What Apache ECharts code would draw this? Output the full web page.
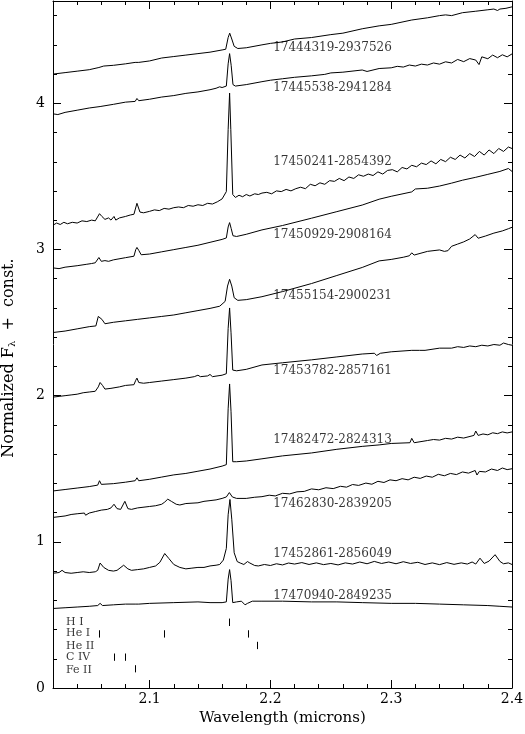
<!DOCTYPE html>
<html><head><meta charset="utf-8">
<script src="https://cdn.jsdelivr.net/npm/echarts@6/dist/echarts.min.js"></script>
<style>html,body{margin:0;padding:0;background:#fff}#c{width:525px;height:734px}</style>
</head><body><div id="c"></div>
<script>
// ---- data (wavelength in microns, normalized flux + const.) ----
const starNames = ['17444319-2937526','17445538-2941284','17450241-2854392','17450929-2908164','17455154-2900231',
  '17453782-2857161','17482472-2824313','17462830-2839205','17452861-2856049','17470940-2849235'];

const s1 = [[2.020,4.20],[2.030,4.21],[2.040,4.22],[2.050,4.23],[2.058,4.245],[2.062,4.255],[2.070,4.26],[2.080,4.27],[2.088,4.28],[2.0895,4.29],[2.091,4.28],[2.100,4.29],[2.110,4.31],[2.120,4.32],[2.130,4.33],[2.140,4.34],[2.150,4.35],[2.160,4.365],[2.1630,4.37],[2.1650,4.45],[2.1663,4.48],[2.1680,4.44],[2.1700,4.39],[2.1730,4.375],[2.180,4.38],[2.193,4.40],[2.200,4.41],[2.210,4.42],[2.220,4.44],[2.234,4.45],[2.250,4.47],[2.260,4.48],[2.276,4.51],[2.290,4.53],[2.300,4.54],[2.317,4.57],[2.330,4.585],[2.340,4.60],[2.345,4.605],[2.350,4.60],[2.359,4.62],[2.370,4.63],[2.380,4.64],[2.385,4.645],[2.388,4.635],[2.390,4.645],[2.395,4.65],[2.400,4.66]];

const s2 = [[2.020,3.928],[2.024,3.923],[2.030,3.938],[2.040,3.953],[2.050,3.968],[2.059,3.978],[2.070,3.993],[2.080,4.008],[2.088,4.013],[2.0895,4.033],[2.091,4.018],[2.100,4.028],[2.110,4.043],[2.120,4.053],[2.130,4.068],[2.140,4.078],[2.150,4.093],[2.155,4.103],[2.158,4.113],[2.160,4.108],[2.1635,4.118],[2.1650,4.27],[2.1662,4.34],[2.1675,4.26],[2.1690,4.128],[2.171,4.118],[2.180,4.128],[2.193,4.148],[2.200,4.158],[2.210,4.168],[2.220,4.178],[2.234,4.188],[2.245,4.198],[2.250,4.208],[2.260,4.213],[2.276,4.228],[2.280,4.218],[2.290,4.238],[2.300,4.243],[2.305,4.253],[2.310,4.248],[2.315,4.262],[2.320,4.255],[2.325,4.268],[2.330,4.262],[2.335,4.276],[2.340,4.268],[2.345,4.284],[2.350,4.276],[2.355,4.300],[2.360,4.285],[2.365,4.306],[2.370,4.296],[2.3727,4.265],[2.375,4.318],[2.380,4.305],[2.384,4.330],[2.388,4.312],[2.392,4.332],[2.396,4.318],[2.400,4.338]];

const s3 = [[2.020,3.166],[2.023,3.181],[2.026,3.171],[2.029,3.186],[2.032,3.176],[2.036,3.186],[2.040,3.181],[2.044,3.196],[2.048,3.191],[2.052,3.201],[2.055,3.196],[2.0585,3.245],[2.0605,3.226],[2.063,3.206],[2.066,3.216],[2.068,3.201],[2.0705,3.226],[2.072,3.201],[2.075,3.216],[2.080,3.226],[2.084,3.236],[2.087,3.241],[2.0895,3.316],[2.092,3.256],[2.095,3.251],[2.100,3.261],[2.104,3.271],[2.108,3.266],[2.112,3.281],[2.116,3.276],[2.120,3.286],[2.124,3.291],[2.128,3.286],[2.132,3.301],[2.136,3.296],[2.140,3.306],[2.144,3.301],[2.148,3.316],[2.152,3.311],[2.156,3.326],[2.160,3.346],[2.1635,3.396],[2.1650,3.82],[2.1662,4.07],[2.1672,3.82],[2.1688,3.376],[2.171,3.356],[2.174,3.371],[2.177,3.361],[2.180,3.376],[2.183,3.366],[2.187,3.381],[2.190,3.376],[2.193,3.386],[2.197,3.391],[2.201,3.381],[2.205,3.401],[2.209,3.396],[2.213,3.411],[2.217,3.401],[2.221,3.416],[2.225,3.426],[2.229,3.416],[2.233,3.446],[2.237,3.436],[2.241,3.456],[2.245,3.446],[2.249,3.471],[2.253,3.466],[2.257,3.486],[2.261,3.471],[2.265,3.496],[2.269,3.486],[2.273,3.511],[2.277,3.501],[2.281,3.516],[2.285,3.506],[2.289,3.531],[2.293,3.516],[2.297,3.541],[2.301,3.546],[2.305,3.531],[2.309,3.561],[2.313,3.551],[2.317,3.576],[2.321,3.566],[2.325,3.591],[2.329,3.581],[2.333,3.606],[2.337,3.586],[2.341,3.616],[2.345,3.601],[2.349,3.631],[2.353,3.616],[2.357,3.646],[2.361,3.626],[2.365,3.656],[2.369,3.636],[2.373,3.671],[2.377,3.646],[2.381,3.681],[2.385,3.656],[2.389,3.691],[2.393,3.671],[2.397,3.701],[2.400,3.691]];

const s4 = [[2.020,2.874],[2.025,2.869],[2.030,2.879],[2.040,2.889],[2.048,2.899],[2.052,2.904],[2.055,2.909],[2.058,2.945],[2.060,2.919],[2.063,2.924],[2.066,2.919],[2.070,2.929],[2.080,2.944],[2.087,2.954],[2.0885,2.999],[2.0895,3.014],[2.091,2.994],[2.093,2.964],[2.100,2.969],[2.110,2.984],[2.120,2.999],[2.130,3.014],[2.140,3.029],[2.150,3.049],[2.160,3.069],[2.1635,3.079],[2.1650,3.154],[2.1662,3.184],[2.1675,3.144],[2.1690,3.094],[2.172,3.089],[2.180,3.104],[2.193,3.134],[2.210,3.164],[2.234,3.214],[2.255,3.259],[2.276,3.304],[2.290,3.344],[2.300,3.364],[2.317,3.394],[2.320,3.414],[2.330,3.419],[2.340,3.434],[2.350,3.454],[2.359,3.474],[2.370,3.494],[2.380,3.514],[2.390,3.534],[2.397,3.554],[2.400,3.534]];

const s5 = [[2.020,2.432],[2.030,2.442],[2.040,2.457],[2.050,2.472],[2.0555,2.477],[2.0575,2.542],[2.0590,2.552],[2.0605,2.522],[2.063,2.492],[2.070,2.502],[2.080,2.512],[2.090,2.522],[2.100,2.532],[2.110,2.542],[2.120,2.552],[2.130,2.567],[2.140,2.582],[2.150,2.597],[2.158,2.612],[2.1625,2.645],[2.1645,2.75],[2.1662,2.796],[2.1680,2.75],[2.1700,2.67],[2.173,2.652],[2.180,2.657],[2.193,2.677],[2.210,2.712],[2.234,2.767],[2.255,2.822],[2.276,2.877],[2.290,2.922],[2.300,2.932],[2.310,2.947],[2.315,2.957],[2.317,2.977],[2.319,2.962],[2.330,2.987],[2.340,2.997],[2.344,2.987],[2.347,2.992],[2.350,3.022],[2.355,3.037],[2.360,3.052],[2.365,3.072],[2.3695,3.102],[2.372,3.077],[2.378,3.092],[2.385,3.112],[2.392,3.127],[2.397,3.142],[2.400,3.152]];

const s6 = [[2.020,1.990],[2.025,1.995],[2.030,2.000],[2.035,2.005],[2.040,2.010],[2.045,2.020],[2.050,2.025],[2.055,2.030],[2.0575,2.060],[2.059,2.090],[2.061,2.070],[2.063,2.045],[2.068,2.050],[2.075,2.060],[2.080,2.070],[2.087,2.075],[2.0885,2.105],[2.0895,2.120],[2.091,2.090],[2.095,2.085],[2.100,2.090],[2.110,2.100],[2.120,2.110],[2.130,2.120],[2.137,2.130],[2.140,2.140],[2.142,2.130],[2.148,2.135],[2.150,2.145],[2.152,2.130],[2.160,2.140],[2.1635,2.150],[2.1650,2.46],[2.1662,2.60],[2.1674,2.43],[2.1688,2.175],[2.172,2.170],[2.180,2.180],[2.193,2.210],[2.210,2.225],[2.234,2.245],[2.255,2.265],[2.276,2.285],[2.286,2.290],[2.288,2.275],[2.291,2.290],[2.300,2.300],[2.317,2.310],[2.3235,2.310],[2.325,2.300],[2.328,2.310],[2.340,2.325],[2.350,2.325],[2.355,2.335],[2.360,2.330],[2.365,2.340],[2.370,2.335],[2.375,2.345],[2.380,2.340],[2.385,2.350],[2.390,2.345],[2.393,2.360],[2.397,2.350],[2.400,2.345]];

const s7 = [[2.020,1.348],[2.030,1.358],[2.040,1.368],[2.050,1.378],[2.057,1.388],[2.0585,1.418],[2.060,1.393],[2.070,1.398],[2.080,1.408],[2.088,1.418],[2.0895,1.438],[2.091,1.418],[2.100,1.428],[2.110,1.443],[2.120,1.458],[2.130,1.468],[2.140,1.483],[2.150,1.498],[2.160,1.518],[2.1635,1.528],[2.1650,1.91],[2.1662,2.08],[2.1674,1.89],[2.1688,1.548],[2.172,1.548],[2.180,1.553],[2.193,1.568],[2.210,1.588],[2.234,1.608],[2.255,1.633],[2.276,1.653],[2.290,1.663],[2.300,1.673],[2.3155,1.678],[2.317,1.708],[2.319,1.678],[2.330,1.693],[2.335,1.700],[2.340,1.696],[2.345,1.708],[2.350,1.703],[2.355,1.716],[2.360,1.710],[2.3685,1.728],[2.370,1.758],[2.372,1.728],[2.376,1.738],[2.380,1.732],[2.384,1.746],[2.388,1.740],[2.392,1.752],[2.396,1.745],[2.400,1.752]];

const s8 = [[2.020,1.167],[2.025,1.172],[2.030,1.177],[2.035,1.187],[2.040,1.192],[2.046,1.197],[2.047,1.182],[2.050,1.197],[2.055,1.207],[2.060,1.217],[2.065,1.222],[2.068,1.232],[2.0705,1.257],[2.073,1.227],[2.076,1.222],[2.0795,1.277],[2.082,1.227],[2.085,1.222],[2.090,1.232],[2.100,1.242],[2.105,1.247],[2.110,1.257],[2.1125,1.272],[2.1150,1.292],[2.118,1.277],[2.122,1.257],[2.125,1.252],[2.130,1.262],[2.140,1.267],[2.145,1.277],[2.150,1.282],[2.155,1.287],[2.160,1.297],[2.1635,1.307],[2.1660,1.337],[2.1685,1.307],[2.172,1.297],[2.180,1.297],[2.187,1.305],[2.193,1.309],[2.199,1.319],[2.204,1.314],[2.210,1.332],[2.216,1.328],[2.222,1.342],[2.228,1.345],[2.234,1.362],[2.240,1.356],[2.246,1.370],[2.252,1.364],[2.258,1.380],[2.263,1.374],[2.268,1.392],[2.273,1.386],[2.279,1.402],[2.284,1.394],[2.289,1.414],[2.294,1.406],[2.299,1.424],[2.304,1.418],[2.309,1.432],[2.314,1.424],[2.319,1.442],[2.324,1.434],[2.329,1.450],[2.334,1.442],[2.339,1.462],[2.344,1.452],[2.349,1.468],[2.354,1.460],[2.359,1.478],[2.364,1.470],[2.3695,1.488],[2.371,1.457],[2.373,1.482],[2.378,1.478],[2.383,1.498],[2.388,1.488],[2.392,1.505],[2.396,1.494],[2.400,1.500]];

const s9 = [[2.020,0.785],[2.025,0.790],[2.0275,0.805],[2.030,0.790],[2.035,0.785],[2.040,0.790],[2.045,0.795],[2.050,0.790],[2.055,0.795],[2.057,0.805],[2.0590,0.855],[2.062,0.825],[2.066,0.805],[2.070,0.800],[2.073,0.805],[2.0785,0.840],[2.082,0.815],[2.085,0.805],[2.090,0.810],[2.095,0.815],[2.100,0.825],[2.105,0.835],[2.1085,0.860],[2.1125,0.920],[2.116,0.885],[2.120,0.845],[2.125,0.825],[2.130,0.815],[2.135,0.820],[2.140,0.825],[2.145,0.825],[2.150,0.835],[2.155,0.840],[2.158,0.845],[2.161,0.875],[2.1635,0.955],[2.1650,1.185],[2.1665,1.290],[2.1680,1.155],[2.170,0.925],[2.1725,0.865],[2.175,0.855],[2.178,0.845],[2.181,0.865],[2.183,0.855],[2.187,0.838],[2.190,0.835],[2.195,0.845],[2.200,0.838],[2.205,0.850],[2.210,0.842],[2.215,0.855],[2.220,0.848],[2.226,0.858],[2.232,0.845],[2.238,0.856],[2.244,0.844],[2.250,0.852],[2.256,0.842],[2.262,0.856],[2.268,0.848],[2.274,0.862],[2.280,0.850],[2.286,0.866],[2.292,0.852],[2.298,0.862],[2.304,0.850],[2.310,0.864],[2.316,0.852],[2.322,0.860],[2.328,0.845],[2.334,0.856],[2.340,0.844],[2.346,0.858],[2.352,0.846],[2.358,0.856],[2.363,0.848],[2.367,0.862],[2.370,0.848],[2.3735,0.888],[2.377,0.852],[2.381,0.868],[2.386,0.912],[2.390,0.866],[2.393,0.850],[2.397,0.856],[2.400,0.845]];

const s10 = [[2.020,0.544],[2.030,0.549],[2.040,0.554],[2.050,0.559],[2.057,0.564],[2.059,0.579],[2.061,0.564],[2.070,0.569],[2.080,0.574],[2.088,0.574],[2.0895,0.584],[2.091,0.574],[2.100,0.579],[2.120,0.584],[2.140,0.589],[2.150,0.584],[2.160,0.584],[2.1635,0.589],[2.1650,0.745],[2.1662,0.810],[2.1674,0.735],[2.1688,0.584],[2.172,0.589],[2.176,0.594],[2.179,0.569],[2.181,0.579],[2.185,0.594],[2.193,0.594],[2.210,0.594],[2.234,0.589],[2.255,0.589],[2.276,0.584],[2.300,0.579],[2.320,0.579],[2.340,0.574],[2.360,0.569],[2.380,0.564],[2.390,0.559],[2.400,0.554]];

const spectra = [s1, s2, s3, s4, s5, s6, s7, s8, s9, s10];
const starLabelX = 2.2019;
const starLabelY = [4.377, 4.107, 3.602, 3.103, 2.680, 2.167, 1.699, 1.259, 0.917, 0.630];

const ionNames = ['H I', 'He I', 'He II', 'C IV', 'Fe II'];
const ionWaves = [[2.1657], [2.0586, 2.1125, 2.1815], [2.1889], [2.0705, 2.0799], [2.0884]];
const ionTickY = [[0.424, 0.475], [0.345, 0.395], [0.266, 0.316], [0.186, 0.236], [0.107, 0.156]];
const ionLabelX = 2.0304;
const ionLabelY = [0.448, 0.378, 0.289, 0.209, 0.125];

const xMajor = [2.1, 2.2, 2.3, 2.4];
const yMajor = [0, 1, 2, 3, 4];

// ---- chart ----
const FONT = 'DejaVu Serif';
const BLK = '#000';
const chart = echarts.init(document.getElementById('c'), null, {renderer: 'canvas'});

function xAx(pos, major, labels) {
  const a = {type: 'value', position: pos, min: 2.02, max: 2.4,
    axisLine: {show: major, onZero: false, lineStyle: {color: BLK, width: 1}},
    axisTick: {show: true, inside: true, length: major ? 8 : 4, lineStyle: {color: BLK, width: 1}},
    axisLabel: {show: false}, splitLine: {show: false}};
  if (major) { a.axisTick.customValues = xMajor; } else { a.interval = 0.02; }
  if (labels) {
    a.axisLabel = {show: true, customValues: xMajor, color: BLK, fontFamily: FONT, fontSize: 14, margin: 4,
      formatter: v => v.toFixed(1)};
    a.name = 'Wavelength (microns)';
    a.nameLocation = 'middle';
    a.nameGap = 21;
    a.nameTextStyle = {color: BLK, fontFamily: FONT, fontSize: 15};
  }
  return a;
}
function yAx(pos, major, labels) {
  const a = {type: 'value', position: pos, min: 0, max: 4.7,
    axisLine: {show: major, onZero: false, lineStyle: {color: BLK, width: 1}},
    axisTick: {show: true, inside: true, length: major ? 8 : 4, lineStyle: {color: BLK, width: 1}},
    axisLabel: {show: false}, splitLine: {show: false}};
  if (major) { a.axisTick.customValues = yMajor; } else { a.interval = 0.2; }
  if (labels) {
    a.axisLabel = {show: true, customValues: yMajor, color: BLK, fontFamily: FONT, fontSize: 14, margin: 8};
  }
  return a;
}

const series = [];
spectra.forEach((d, i) => {
  series.push({type: 'line', name: starNames[i], data: d, symbol: 'none', showSymbol: false,
    lineStyle: {color: BLK, width: 1}, silent: true, animation: false, z: 3});
});
series.push({type: 'scatter', symbol: 'circle', symbolSize: 1, itemStyle: {color: 'rgba(0,0,0,0)'},
  data: starNames.map((n, i) => ({name: n, value: [starLabelX, starLabelY[i]]})),
  label: {show: true, position: 'right', distance: 0, formatter: '{b}', color: BLK, fontFamily: FONT, fontSize: 12},
  silent: true, animation: false, z: 5});
series.push({type: 'scatter', symbol: 'circle', symbolSize: 1, itemStyle: {color: 'rgba(0,0,0,0)'},
  data: ionNames.map((n, i) => ({name: n, value: [ionLabelX, ionLabelY[i]]})),
  label: {show: true, position: 'right', distance: 0, formatter: '{b}', color: BLK, fontFamily: FONT, fontSize: 11},
  silent: true, animation: false, z: 5});
const ionSegs = [];
ionWaves.forEach((ws, i) => ws.forEach(w => ionSegs.push({coords: [[w, ionTickY[i][0]], [w, ionTickY[i][1]]]})));
series.push({type: 'lines', coordinateSystem: 'cartesian2d', data: ionSegs,
  lineStyle: {color: BLK, width: 1, opacity: 1}, silent: true, animation: false, z: 4});

chart.setOption({
  animation: false,
  backgroundColor: '#fff',
  grid: {left: 53, right: 13, top: 1, bottom: 46, containLabel: false, outerBoundsMode: 'none'},
  xAxis: [xAx('bottom', true, true), xAx('bottom', false, false), xAx('top', true, false), xAx('top', false, false)],
  yAxis: [yAx('left', true, true), yAx('left', false, false), yAx('right', true, false), yAx('right', false, false)],
  graphic: [{
    type: 'text', x: 9, y: 358, rotation: Math.PI / 2, z: 10,
    style: {
      text: '{n|Normalized F}{s|λ}{n|  +  const.}',
      align: 'center', verticalAlign: 'middle',
      rich: {
        n: {fontFamily: FONT, fontSize: 16, fill: BLK, verticalAlign: 'top', lineHeight: 17},
        s: {fontFamily: FONT, fontSize: 10, fill: BLK, verticalAlign: 'bottom'}
      }
    }
  }],
  series: series
});
</script>
</body></html>
